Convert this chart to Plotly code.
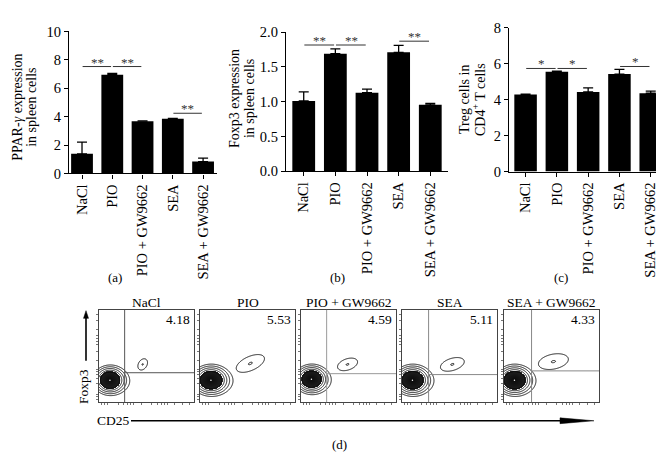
import numpy as np
import plotly.graph_objects as go

W, H = 664, 471
FONT = "Liberation Serif"

# ---------------- data ----------------
groups = ["NaCl", "PIO", "PIO + GW9662", "SEA", "SEA + GW9662"]

ppar_mean = [1.38, 6.95, 3.68, 3.85, 0.84]
ppar_top = [2.2, 7.05, 3.70, 3.88, 1.08]

foxp3_mean = [1.01, 1.69, 1.13, 1.71, 0.955]
foxp3_top = [1.14, 1.76, 1.18, 1.81, 0.975]

treg_mean = [4.29, 5.56, 4.43, 5.43, 4.36]
treg_top = [4.31, 5.59, 4.66, 5.69, 4.48]

# significance: (from, to, height, label)
sig_a = [(0, 1, 7.53, "**"), (1, 2, 7.53, "**"), (3, 4, 4.24, "**")]
sig_b = [(0, 1, 1.815, "**"), (1, 2, 1.815, "**"), (3, 4, 1.87, "**")]
sig_c = [(0, 1, 5.74, "*"), (1, 2, 5.74, "*"), (3, 4, 5.85, "*")]

# flow panels (d)
flow_titles = ["NaCl", "PIO", "PIO + GW9662", "SEA", "SEA + GW9662"]
flow_pct = ["4.18", "5.53", "4.59", "5.11", "4.33"]
main_cx = [0.115, 0.115, 0.11, 0.11, 0.11]
main_cy = [0.24, 0.24, 0.25, 0.24, 0.24]
main_sx = [0.062, 0.070, 0.062, 0.068, 0.068]
main_sy = [0.055, 0.058, 0.055, 0.058, 0.058]
small_cx = [0.46, 0.53, 0.49, 0.53, 0.52]
small_cy = [0.41, 0.42, 0.41, 0.41, 0.44]
small_sx = [0.065, 0.16, 0.11, 0.13, 0.16]
small_sy = [0.045, 0.075, 0.06, 0.065, 0.08]
small_ang = [60, 25, 20, 18, 12]
quad_x = [0.27, None, 0.27, 0.28, 0.29]
quad_y = [0.32, None, 0.31, 0.30, 0.34]
quad_col = ["#555555", None, "#9a9a9a", "#888888", "#888888"]


def px(x):
    return x / W


def py(y):
    return 1 - y / H


fig = go.Figure()

bar_panels = [
    ("x", "y", ppar_mean, ppar_top, sig_a),
    ("x2", "y2", foxp3_mean, foxp3_top, sig_b),
    ("x3", "y3", treg_mean, treg_top, sig_c),
]

shapes = []
annotations = []


def ann(x, y, text, size=13, angle=0, xanchor="center", color="black", **kw):
    d = dict(xref="paper", yref="paper", x=px(x), y=py(y), text=text,
             showarrow=False, xanchor=xanchor, yanchor="middle",
             textangle=angle, font=dict(family=FONT, size=size, color=color))
    d.update(kw)
    annotations.append(d)


for xa, ya, mean, top, sig in bar_panels:
    up = [t - m for t, m in zip(top, mean)]
    fig.add_trace(go.Bar(
        x=list(range(len(groups))), y=mean, xaxis=xa, yaxis=ya,
        marker=dict(color="black", line=dict(width=0)), width=0.72,
        error_y=dict(type="data", symmetric=False, array=up,
                     arrayminus=[0] * len(up), color="black",
                     thickness=1.3, width=5),
        showlegend=False, hoverinfo="skip"))
    for i, j, h, lab in sig:
        shapes.append(dict(type="line", xref=xa, yref=ya, x0=i + 0.02,
                           x1=j - 0.04, y0=h, y1=h,
                           line=dict(color="#333333", width=1)))
        annotations.append(dict(xref=xa, yref=ya, x=(i + j) / 2, y=h,
                                text=lab, showarrow=False, xanchor="center",
                                yanchor="bottom", yshift=-5,
                                font=dict(family=FONT, size=13, color="#333333")))

axis_common = dict(showline=True, linecolor="black", linewidth=1.3,
                   ticks="outside", ticklen=4, tickwidth=1.1,
                   tickcolor="black", showgrid=False, zeroline=False,
                   tickfont=dict(family=FONT, size=14.5, color="black"))

layout = dict(width=W, height=H, margin=dict(l=0, r=0, t=0, b=0),
              plot_bgcolor="white", paper_bgcolor="white",
              font=dict(family=FONT, color="black"))

xdoms = [(61, 209), (278, 440), (501, 664)]
ydoms = [(16, 163), (16.7, 160.7), (12.3, 161)]
xranges = [[-0.43, 4.46], [-0.56, 4.56], [-0.53, 4.68]]
yranges = [[0, 10], [0, 2], [0, 8]]
ydt = [2, 0.5, 2]
yfmt = ["d", ".1f", "d"]

for k in range(3):
    sx = "" if k == 0 else str(k + 1)
    layout["xaxis" + sx] = dict(
        axis_common, domain=[px(xdoms[k][0]), px(xdoms[k][1])],
        range=xranges[k], anchor="y" + sx, tickangle=-90,
        tickmode="array", tickvals=list(range(5)), ticktext=groups)
    layout["yaxis" + sx] = dict(
        axis_common, domain=[py(ydoms[k][1]), py(ydoms[k][0])],
        range=yranges[k], anchor="x" + sx, dtick=ydt[k], tick0=0,
        tickformat=yfmt[k])

# y titles (two lines each)
TS = 14
ann(10, 95, "PPAR-<i>γ</i> expression", size=TS, angle=-90)
ann(24, 95, "in spleen cells", size=TS, angle=-90)
ann(226, 86, "Foxp3 expression", size=TS, angle=-90)
ann(241, 86, "in spleen cells", size=TS, angle=-90)
ann(456, 87, "Treg cells in", size=TS, angle=-90)
ann(471, 87, "CD4<sup>+</sup> T cells", size=TS, angle=-90)

for lab, xx, yy in [("(a)", 107, 271), ("(b)", 329, 271), ("(c)", 553, 271),
                    ("(d)", 331, 444)]:
    ann(xx, yy, lab, size=13)

# ---------------- flow panels ----------------
gx = np.linspace(0, 1, 260)
gy = np.linspace(0, 1, 260)
GX, GY = np.meshgrid(gx, gy)
box_x0 = [91, 192, 293, 394, 496]
box_w = 95
box_y0, box_y1 = 304, 400

minor = [0.03, 0.06, 0.09, 0.2, 0.26, 0.3, 0.33, 0.36, 0.45, 0.55, 0.62, 0.66,
         0.69, 0.72, 0.79, 0.88, 0.95]

for k in range(5):
    n = k + 4
    xa, ya = "x%d" % n, "y%d" % n
    # main population (core + halo extending right)
    d_core = np.exp(-0.5 * (((GX - main_cx[k]) / main_sx[k]) ** 2 +
                            ((GY - main_cy[k]) / main_sy[k]) ** 2))
    d_halo = 0.04 * np.exp(-0.5 * (((GX - main_cx[k] - 0.05) / (1.6 * main_sx[k])) ** 2 +
                                   ((GY - main_cy[k] + 0.01) / (1.4 * main_sy[k])) ** 2))
    dens = d_core + d_halo
    r = np.sqrt(-2 * np.log(dens / dens.max() + 1e-300))
    # dense black core
    core = np.where(r < 1.75, r, np.nan)
    fig.add_trace(go.Heatmap(
        x=gx, y=gy, z=core, xaxis=xa, yaxis=ya, showscale=False,
        colorscale=[[0, "#0a0a0a"], [0.85, "#1c1c1c"], [1, "#3a3a3a"]],
        zmin=0, zmax=1.75, hoverinfo="skip"))
    fig.add_trace(go.Contour(
        x=gx, y=gy, z=r, xaxis=xa, yaxis=ya, showscale=False,
        contours=dict(coloring="lines", start=1.6, end=3.0, size=0.33),
        line=dict(color="black", width=0.9), colorscale=[[0, "black"], [1, "black"]],
        hoverinfo="skip"))
    fig.add_trace(go.Scatter(
        x=[main_cx[k]], y=[main_cy[k]], xaxis=xa, yaxis=ya, mode="markers",
        marker=dict(color="white", size=1.5), showlegend=False, hoverinfo="skip"))
    # small CD25+ Foxp3+ population
    a = np.deg2rad(small_ang[k])
    u = (GX - small_cx[k]) * np.cos(a) + (GY - small_cy[k]) * np.sin(a)
    v = -(GX - small_cx[k]) * np.sin(a) + (GY - small_cy[k]) * np.cos(a)
    qs = (u / small_sx[k]) ** 2 + (v / small_sy[k]) ** 2
    fig.add_trace(go.Contour(
        x=gx, y=gy, z=-qs, xaxis=xa, yaxis=ya, showscale=False,
        contours=dict(coloring="lines", start=-1.0, end=-0.02, size=0.98),
        line=dict(color="black", width=0.9), colorscale=[[0, "black"], [1, "black"]],
        hoverinfo="skip"))

    fax = dict(showline=True, mirror=True, linecolor="#444444", linewidth=1,
               showgrid=False, zeroline=False, range=[0, 1],
               tickmode="array", tickvals=minor, showticklabels=False,
               ticks="outside", ticklen=2, tickwidth=0.6, tickcolor="#777777",
               fixedrange=True)
    layout["xaxis%d" % n] = dict(fax, domain=[px(box_x0[k]), px(box_x0[k] + box_w)],
                                 anchor=ya)
    layout["yaxis%d" % n] = dict(fax, domain=[py(box_y1), py(box_y0)], anchor=xa)

    if quad_x[k] is not None:
        shapes.append(dict(type="line", xref=xa, yref=ya, x0=quad_x[k], x1=quad_x[k],
                           y0=0, y1=1, line=dict(color=quad_col[k], width=1)))
        shapes.append(dict(type="line", xref=xa, yref=ya, x0=quad_x[k], x1=1,
                           y0=quad_y[k], y1=quad_y[k],
                           line=dict(color=quad_col[k], width=1)))

    ann(box_x0[k] + box_w / 2, 297, flow_titles[k], size=13.5)
    ann(box_x0[k] + box_w - 2, 314, flow_pct[k], size=13.5, xanchor="right")

# axis labels / arrows for (d)
ann(76, 384, "Foxp3", size=13.5, angle=-90)
ann(105, 419, "CD25", size=13.5)
# Foxp3 arrow
shapes.append(dict(type="line", xref="paper", yref="paper", x0=px(78), x1=px(78),
                   y0=py(357), y1=py(312), line=dict(color="black", width=1.6)))
shapes.append(dict(type="path", xref="paper", yref="paper",
                   path="M %f %f L %f %f L %f %f Z" % (px(75.5), py(313), px(80.5), py(313),
                                                       px(78), py(305)),
                   fillcolor="black", line=dict(color="black", width=0.5)))
# CD25 arrow
shapes.append(dict(type="line", xref="paper", yref="paper", x0=px(123), x1=px(555),
                   y0=py(419), y1=py(419), line=dict(color="black", width=1.6)))
shapes.append(dict(type="path", xref="paper", yref="paper",
                   path="M %f %f L %f %f L %f %f Z" % (px(552), py(416), px(552), py(422),
                                                       px(586), py(419)),
                   fillcolor="black", line=dict(color="black", width=0.5)))

layout["shapes"] = shapes
layout["annotations"] = annotations
fig.update_layout(**layout)
fig.write_html("out.html")
